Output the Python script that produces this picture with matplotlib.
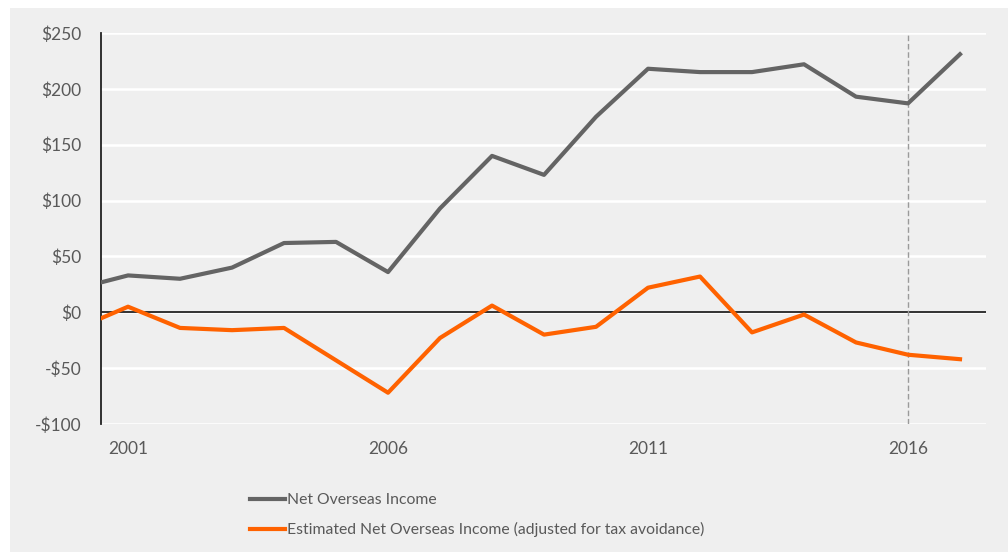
import matplotlib.pyplot as plt
import matplotlib.patches as mpatches
import numpy as np

years = np.arange(2000, 2018)
net_income = [21, 33, 30, 40, 62, 63, 36, 93, 140, 123, 175, 218, 215, 215, 222, 193, 187, 231]
net_income_adj = [-15, 5, -14, -16, -14, -43, -72, -23, 6, -20, -13, 22, 32, -18, -2, -27, -38, -42]
yticks = [-100, -50, 0, 50, 100, 150, 200, 250]
xticks = [2001, 2006, 2011, 2016]

GREY = '#646464'
ORANGE = '#ff6200'
PANEL = '#efefef'
TXT = '#595959'

plt.rcParams['font.family'] = ['Lato', 'DejaVu Sans']

fig = plt.figure(figsize=(10.08, 5.52), dpi=100)
fig.patch.set_facecolor('white')
# grey panel behind everything
fig.patches.append(mpatches.Rectangle((10/1008, 0), 1, 1 - 8/552, transform=fig.transFigure,
                                      facecolor=PANEL, edgecolor='none', zorder=-5))

ax = fig.add_axes([101/1008, 1 - 424/552, (986 - 101)/1008, (424 - 33)/552])
ax.set_facecolor('none')
ax.set_zorder(1)

for y in yticks:
    ax.axhline(y, color='white', lw=1.8, zorder=1)
ax.axhline(0, color='#222222', lw=1.3, zorder=2)
ax.axvline(2016, color='#9a9a9a', lw=1, ls=(0, (4, 2)), zorder=2)

l1, = ax.plot(years, net_income, color=GREY, lw=3.0, solid_joinstyle='round',
              label='Net Overseas Income', zorder=3)
l2, = ax.plot(years, net_income_adj, color=ORANGE, lw=3.0, solid_joinstyle='round',
              label='Estimated Net Overseas Income (adjusted for tax avoidance)', zorder=4)

ax.set_xlim(2000.48, 2017.5)
ax.set_ylim(-100, 250)
ax.set_yticks(yticks)
ax.set_yticklabels([('-$%d' % -v) if v < 0 else '$%d' % v for v in yticks])
ax.set_xticks(xticks)
ax.tick_params(length=0, labelsize=12.5, colors=TXT)
ax.tick_params(axis='y', pad=14)
ax.tick_params(axis='x', pad=12)

for s in ['top', 'right', 'bottom']:
    ax.spines[s].set_visible(False)
ax.spines['left'].set_color('#222222')
ax.spines['left'].set_linewidth(1.3)

fig.legend(handles=[l1, l2], loc='upper left', bbox_to_anchor=(244/1008, 1 - 487/552),
           frameon=False, fontsize=11.3, labelcolor=TXT, handlelength=2.2,
           handletextpad=0.15, labelspacing=0.95, borderaxespad=0)

fig.savefig('out.png', dpi=100, facecolor=fig.get_facecolor())
